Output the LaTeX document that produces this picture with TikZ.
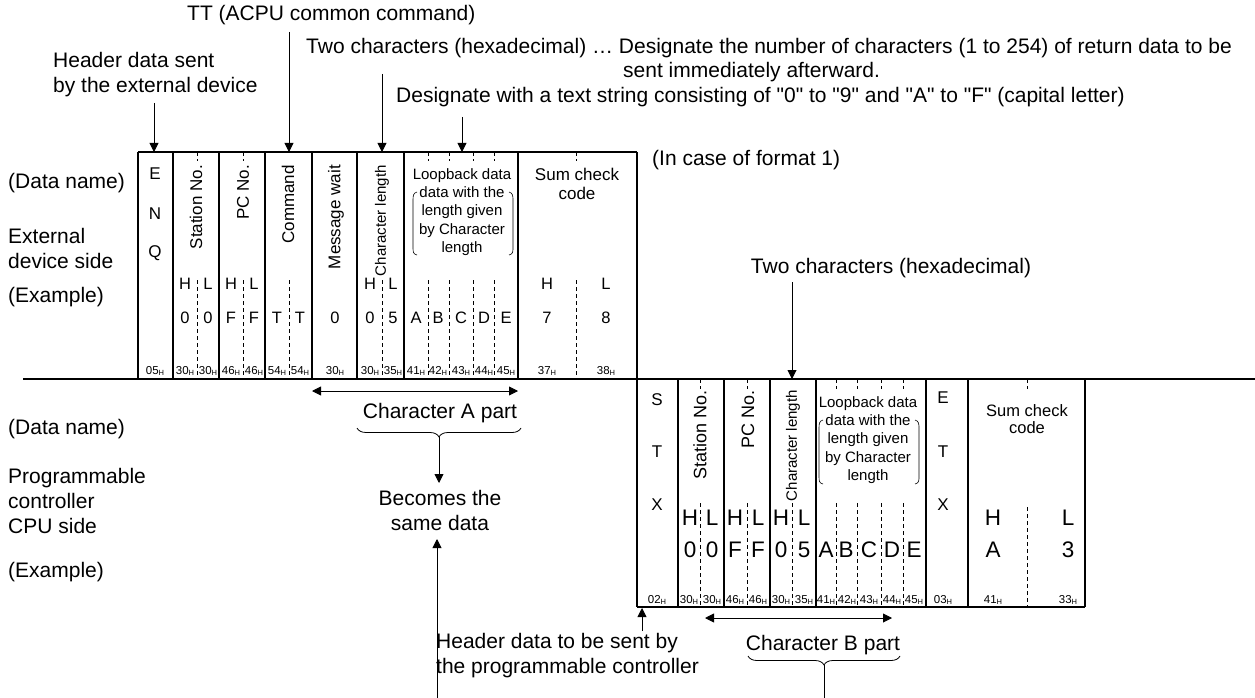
\documentclass[tikz,border=0pt]{standalone}
\usepackage{fontspec}
\setmainfont{Liberation Sans}[Ligatures=TeXOff]
\usetikzlibrary{arrows.meta,decorations.pathreplacing}
\newcommand\hx[1]{#1\raisebox{-0.8pt}{\fontsize{7.5}{7.5}\selectfont H}}
\newcommand\fbig{\fontsize{21}{25}\selectfont}
\newcommand\fcol{\fontsize{17}{19}\selectfont}
\newcommand\floop{\fontsize{15}{18.4}\selectfont}
\newcommand\fcell{\fontsize{16.5}{16.5}\selectfont}
\newcommand\fcellb{\fontsize{22.5}{22.5}\selectfont}
\newcommand\fhex{\fontsize{11.5}{11.5}\selectfont}
\begin{document}
\begin{tikzpicture}[x=1pt,y=-1pt,
  frame/.style={line width=1.9pt},
  colline/.style={line width=1.2pt},
  dsh/.style={line width=0.8pt,dash pattern=on 4pt off 3pt},
  arr/.style={line width=0.9pt,-{Triangle[width=9pt,length=9pt]}},
  darr/.style={line width=0.9pt,{Triangle[width=9pt,length=9pt]}-{Triangle[width=9pt,length=9pt]}},
  txt/.style={inner sep=0pt,font=\fbig},
  ctxt/.style={inner sep=0pt,font=\fcol,rotate=90,anchor=east},
  cell/.style={inner sep=0pt,font=\fcell},
  cellb/.style={inner sep=0pt,font=\fcellb},
  stx/.style={inner sep=0pt,font=\fcol},
  hexl/.style={inner sep=0pt,font=\fhex},
  loop/.style={inner sep=0pt,font=\floop,align=center},
  brc/.style={decorate,decoration={brace,amplitude=9pt,mirror},line width=0.8pt},
  par/.style={line width=0.6pt}]
\useasboundingbox (0,0) rectangle (1255,698);

% ---------- frames ----------
\draw[frame] (138,152) -- (637,152);
\draw[frame] (138,152) -- (138,379);
\draw[frame] (637,152) -- (637,607);
\draw[frame] (23,379) -- (1255,379);
\draw[frame] (637,607) -- (1085,607);
\draw[frame] (1085,379) -- (1085,607);
\foreach \x in {173,219,265,312,357,404,518} \draw[colline] (\x,152) -- (\x,379);
\foreach \x in {678,724,770,816,926,968} \draw[colline] (\x,379) -- (\x,607);
% dashed separators
\foreach \x in {197,243,428,449,473,494,576} \draw[dsh] (\x,152) -- (\x,161);
\foreach \x in {197,243,289,382,428,449,473,494,576} \draw[dsh] (\x,280) -- (\x,379);
\foreach \x in {700,747,836,857,881,903,1027} \draw[dsh] (\x,379) -- (\x,389);
\foreach \x in {700,747,792,836,857,881,903} \draw[dsh] (\x,503) -- (\x,607);
\draw[dsh] (1027,507) -- (1027,607);

% ---------- left labels ----------
\node[txt,anchor=west] (dn1) at (8,183) {(Data name)};
\node[txt,anchor=west,align=left] (ext) at (8,248) {External\\device side};
\node[txt,anchor=west] (ex1) at (8,297) {(Example)};
\node[txt,anchor=west] (dn2) at (8,429) {(Data name)};
\node[txt,anchor=west,align=left] (plc) at (8,501) {Programmable\\controller\\CPU side};
\node[txt,anchor=west] (ex2) at (8,572) {(Example)};

% ---------- top texts ----------
\node[txt,anchor=west] (tt) at (187,15) {TT (ACPU common command)};
\node[txt,anchor=west] (two1) at (306,48) {Two characters (hexadecimal) … Designate the number of characters (1 to 254) of return data to be};
\node[txt,anchor=west] (two1b) at (623,72) {sent immediately afterward.};
\node[txt,anchor=west] (desig) at (396,97) {Designate with a text string consisting of "0" to "9" and "A" to "F" (capital letter)};
\node[txt,anchor=west,align=left] (hdr) at (53,75) {Header data sent\\by the external device};
\node[txt,anchor=west] (fmt) at (652,160) {(In case of format 1)};
\node[txt] (two2) at (891,268) {Two characters (hexadecimal)};

\coordinate (a1s) at (154,103); \coordinate (a1e) at (154,152);
\coordinate (a2s) at (289,32);  \coordinate (a2e) at (289,152);
\coordinate (a3s) at (382,74);  \coordinate (a3e) at (382,152);
\coordinate (a4s) at (462,117); \coordinate (a4e) at (462,152);
\coordinate (a5s) at (792,282); \coordinate (a5e) at (792,379);
\draw[arr] (a1s) -- (a1e);
\draw[arr] (a2s) -- (a2e);
\draw[arr] (a3s) -- (a3e);
\draw[arr] (a4s) -- (a4e);
\draw[arr] (a5s) -- (a5e);

% ---------- top frame contents ----------
\node[stx] (e1) at (155,174) {E};
\node[stx] (n1) at (155,214) {N};
\node[stx] (q1) at (155,253) {Q};
\node[ctxt] (stn1) at (196,165) {Station No.};
\node[ctxt] (pc1) at (243,165) {PC No.};
\node[ctxt] (cmd1) at (288,165) {Command};
\node[ctxt] (mw1) at (336,165) {Message wait};
\node[ctxt,font=\fontsize{15}{15}\selectfont] (cl1) at (382,165) {Character length};
\node[loop] (lb1) at (462,212) {Loopback data\\data with the\\length given\\by Character\\length};
\draw[par] (417,192) .. controls (413,193) and (413,196) .. (413,201) -- (413,247) .. controls (413,252) and (413,254) .. (417,255);
\draw[par] (509,192) .. controls (513,193) and (513,196) .. (513,201) -- (513,247) .. controls (513,252) and (513,254) .. (509,255);
\node[stx,align=center,font=\fontsize{17}{19}\selectfont] (sc1) at (577,184) {Sum check\\code};

\foreach \x/\t in {185/H,208/L,231/H,254/L,370/H,393/L,547/H,606/L}
  \node[cell] at (\x,284) {\t};
\foreach \x/\t in {185/0,208/0,231/F,254/F,277/T,300/T,335/0,370/0,393/5,416/A,438/B,461/C,484/D,506/E,547/7,606/8}
  \node[cell] at (\x,318) {\t};
\foreach \x/\t in {155/05,185/30,208/30,231/46,254/46,277/54,300/54,335/30,370/30,393/35,416/41,438/42,461/43,484/44,506/45,547/37,606/38}
  \node[hexl] at (\x,371) {\hx{\t}};

% ---------- bottom frame contents ----------
\node[stx] (s2) at (657,400) {S};
\node[stx] (t2) at (657,452) {T};
\node[stx] (x2) at (657,505) {X};
\node[ctxt,font=\fontsize{18}{18}\selectfont] (stn2) at (700,390) {Station No.};
\node[ctxt,font=\fontsize{18}{18}\selectfont] (pc2) at (748,390) {PC No.};
\node[ctxt,font=\fontsize{15}{15}\selectfont] (cl2) at (793,390) {Character length};
\node[loop] (lb2) at (868,440) {Loopback data\\data with the\\length given\\by Character\\length};
\draw[par] (823,420) .. controls (819,421) and (819,424) .. (819,429) -- (819,476) .. controls (819,481) and (819,483) .. (823,484);
\draw[par] (915,420) .. controls (919,421) and (919,424) .. (919,429) -- (919,476) .. controls (919,481) and (919,483) .. (915,484);
\node[stx] (e2) at (943,398) {E};
\node[stx] (t3) at (943,452) {T};
\node[stx] (x3) at (943,505) {X};
\node[stx,align=center,font=\fontsize{16.5}{17.5}\selectfont] (sc2) at (1027,419) {Sum check\\code};

\foreach \x/\t in {690/H,712/L,735/H,758/L,781/H,804/L,993/H,1068/L}
  \node[cellb] at (\x,518) {\t};
\foreach \x/\t in {690/0,712/0,735/F,758/F,781/0,804/5,826/A,846/B,869/C,892/D,914/E,993/A,1068/3}
  \node[cellb] at (\x,550) {\t};
\foreach \x/\t in {657/02,689/30,712/30,735/46,758/46,781/30,804/35,826/41,847/42,869/43,892/44,914/45,943/03,993/41,1068/33}
  \node[hexl] at (\x,600) {\hx{\t}};

% ---------- Character A part ----------
\coordinate (caL) at (312,391); \coordinate (caR) at (518,391);
\draw[darr] (caL) -- (caR);
\node[txt] (capart) at (440,413) {Character A part};
\coordinate (bAl) at (357,428); \coordinate (bAr) at (521,428);
\draw[brc] (bAl) -- (bAr);
\coordinate (bAt) at (439,437);
\node[txt,align=center] (same) at (440,510) {Becomes the\\same data};
\coordinate (sameArr) at (439,483);
\draw[arr] (bAt) -- (sameArr);
\coordinate (upS) at (437,698); \coordinate (upE) at (437,539);
\draw[arr] (upS) -- (upE);

% ---------- Header data to be sent ----------
\node[txt,anchor=west,align=left] (hdr2) at (436,656) {Header data to be sent by\\the programmable controller};
\coordinate (h2s) at (642,631); \coordinate (h2e) at (642,608);
\draw[arr] (h2s) -- (h2e);

% ---------- Character B part ----------
\coordinate (cbL) at (705,618); \coordinate (cbR) at (892,618);
\draw[darr] (cbL) -- (cbR);
\node[txt] (cbpart) at (823,645) {Character B part};
\coordinate (bBl) at (748,656); \coordinate (bBr) at (900,656);
\draw[brc] (bBl) -- (bBr);
\coordinate (bBt) at (824,665); \coordinate (bBe) at (824,698);
\draw[line width=0.9pt] (bBt) -- (bBe);
\end{tikzpicture}
\end{document}
